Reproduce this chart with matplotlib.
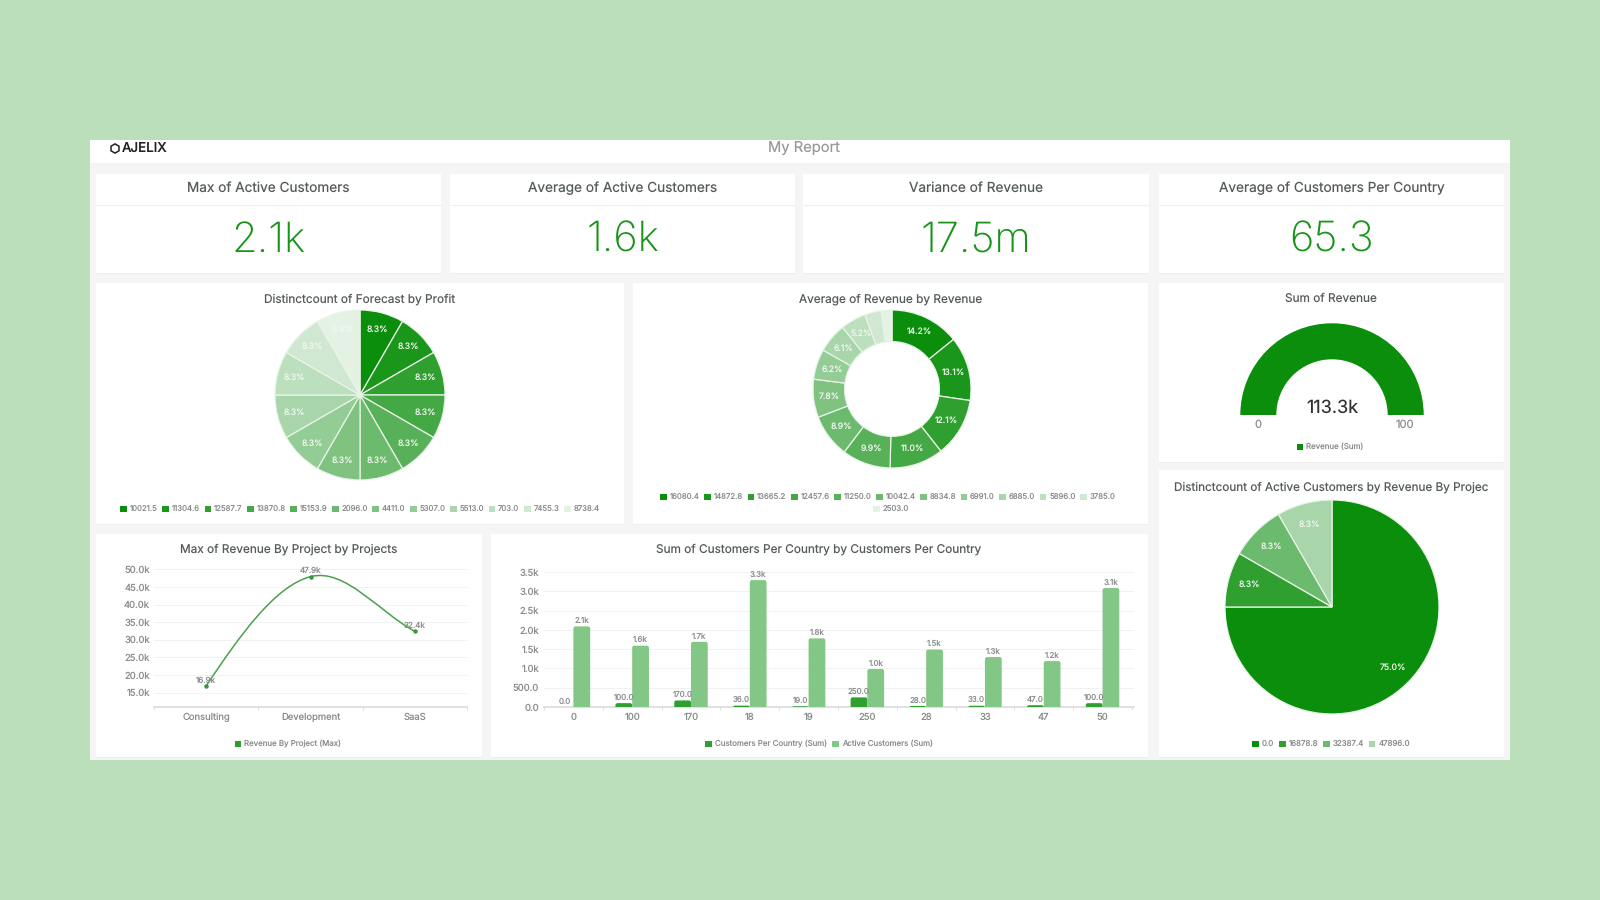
import matplotlib
matplotlib.use("Agg")
from matplotlib import pyplot as plt
from matplotlib.patches import Rectangle, Wedge, PathPatch, RegularPolygon, FancyBboxPatch
from matplotlib.path import Path

plt.rcParams['font.family'] = ['Inter', 'DejaVu Sans']
plt.rcParams['text.hinting'] = 'no_hinting'

# kpi cards
kpi_titles = ["Max of Active Customers", "Average of Active Customers", "Variance of Revenue", "Average of Customers Per Country"]
kpi_values = ["2.1k", "1.6k", "17.5m", "65.3"]

# pie 1
forecast_labels = ["10021.5", "11304.6", "12587.7", "13870.8", "15153.9", "2096.0", "4411.0", "5307.0", "5513.0", "703.0", "7455.3", "8738.4"]
forecast_counts = [1, 1, 1, 1, 1, 1, 1, 1, 1, 1, 1, 1]

# donut
revenue_labels = ["16080.4", "14872.8", "13665.2", "12457.6", "11250.0", "10042.4", "8834.8", "6991.0", "6885.0", "5896.0", "3785.0", "2503.0"]
revenue_values = [16080.4, 14872.8, 13665.2, 12457.6, 11250.0, 10042.4, 8834.8, 6991.0, 6885.0, 5896.0, 3785.0, 2503.0]

# gauge
gauge_value = 100
gauge_max = 100

# line
projects = ["Consulting", "Development", "SaaS"]
project_revenue = [16900, 47900, 32400]
line_ticks = [15000, 20000, 25000, 30000, 35000, 40000, 45000, 50000]

# bars
country_labels = ["0", "100", "170", "18", "19", "250", "28", "33", "47", "50"]
customers_sum = [0, 100, 170, 36, 19, 250, 28, 33, 47, 100]
active_sum = [2090, 1590, 1690, 3290, 1780, 985, 1490, 1295, 1190, 3085]
bar_ticks = [0, 500, 1000, 1500, 2000, 2500, 3000, 3500]

# pie 2
active_labels = ["0.0", "16878.8", "32387.4", "47896.0"]
active_counts = [9, 1, 1, 1]

greens12 = ["#0b8e0b", "#1a961a", "#2f9f30", "#44a845", "#58b159", "#6cba6d", "#80c381", "#94cc95", "#a8d5a9", "#bcdfbd", "#d0e8d1", "#e4f2e4"]
greens4 = ["#0b8e0b", "#2f9f30", "#6cba6d", "#a8d5a9"]
bar_dark = "#2f9f30"
bar_light = "#82c785"

BG = "#bbdfba"
TITLE = "#555a5c"
MUTED = "#8a8d8d"
GRID = "#f0f1f0"

fig = plt.figure(figsize=(16, 9), dpi=100, facecolor=BG)
canvas = fig.add_axes([0, 0, 1, 1])
canvas.set_xlim(0, 1600)
canvas.set_ylim(900, 0)
canvas.axis("off")


def px_axes(x0, y0, x1, y1):
    ax = fig.add_axes([x0 / 1600, 1 - y1 / 900, (x1 - x0) / 1600, (y1 - y0) / 900])
    ax.patch.set_alpha(0)
    return ax


def card(x0, y0, x1, y1):
    canvas.add_patch(Rectangle((x0, y0 + 1), x1 - x0, y1 - y0, fc="#eeeeee", ec="none"))
    canvas.add_patch(Rectangle((x0, y0), x1 - x0, y1 - y0, fc="white", ec="none"))


def legend_row(labels, colors, cx, y, size=5.7, gap=5):
    # measure the labels first so the row can be centred
    renderer = fig.canvas.get_renderer()
    items = []
    total = 0
    for lab in labels:
        t = canvas.text(0, y, lab, fontsize=size, color=MUTED, va="center", ha="left")
        w = t.get_window_extent(renderer).width
        items.append((t, w))
        total += 9.5 + w + gap
    x = cx - (total - gap) / 2
    for (t, w), col in zip(items, colors):
        canvas.add_patch(Rectangle((x, y - 3.2), 6.6, 6.6, fc=col, ec="none"))
        t.set_x(x + 9.5)
        x += 9.5 + w + gap


def pie_axes(cx, cy, r):
    return px_axes(cx - r * 1.02, cy - r * 1.02, cx + r * 1.02, cy + r * 1.02)


def draw_pie(ax, values, colors, width=None, min_pct=0):
    props = {"edgecolor": "#e8f4e8", "linewidth": 0.9}
    if width:
        props["width"] = width
    _, _, autos = ax.pie(values, colors=colors, startangle=90, counterclock=False, radius=1,
                         autopct=lambda p: f"{p:.1f}%" if p >= min_pct else "",
                         pctdistance=0.8, wedgeprops=props,
                         textprops={"color": "#f2f8f2", "fontsize": 6.2})
    ax.set_xlim(-1.02, 1.02)
    ax.set_ylim(-1.02, 1.02)
    return autos


def round_bars(ax, bars, color, aspect):
    # swap the square tops for slightly rounded ones, the bottom is clipped at zero
    for b in bars:
        b.set_visible(False)
        h = b.get_height()
        if h <= 0:
            continue
        ax.add_patch(FancyBboxPatch((b.get_x(), -120), b.get_width(), h + 120,
                                    boxstyle="round,pad=0,rounding_size=0.035", mutation_aspect=aspect,
                                    fc=color, ec="none", zorder=3))


# dashboard frame and header
canvas.add_patch(Rectangle((90, 140), 1420, 620, fc="#f5f5f5", ec="none"))
canvas.add_patch(Rectangle((90, 140), 1420, 23, fc="white", ec="none"))
canvas.add_patch(RegularPolygon((115, 148.5), 6, radius=4.6, fc="none", ec="#222222", lw=1.1))
canvas.text(121.5, 149, "AJELIX", fontsize=9.6, fontweight="medium", color="#222222", va="center", ha="left")
canvas.text(804, 149, "My Report", fontsize=10.6, color="#9a9a9a", va="center", ha="center")

# kpi row
kpi_boxes = [(96, 441), (450, 795), (803, 1149), (1159, 1504)]
for (x0, x1), title, value in zip(kpi_boxes, kpi_titles, kpi_values):
    card(x0, 174, x1, 273)
    canvas.plot([x0, x1], [205, 205], color="#f0f0f0", lw=0.8)
    canvas.text((x0 + x1) / 2, 188, title, fontsize=9.8, color=TITLE, va="center", ha="center")
    canvas.text((x0 + x1) / 2, 240.5, value, fontsize=30, color="#179317", va="center", ha="center", fontweight="light")

# cards
card(96, 283, 624, 524)
card(633, 283, 1148, 524)
card(1159, 283, 1504, 462)
card(96, 534, 482, 757)
card(491, 534, 1148, 757)
card(1159, 470, 1504, 757)

# forecast pie
canvas.text(360, 299, "Distinctcount of Forecast by Profit", fontsize=8.5, color=TITLE, va="center", ha="center")
draw_pie(pie_axes(360, 395, 85), forecast_counts, greens12)
legend_row(forecast_labels, greens12, 360, 509, size=5.6, gap=4.6)

# revenue donut
canvas.text(891, 299, "Average of Revenue by Revenue", fontsize=8.5, color=TITLE, va="center", ha="center")
draw_pie(pie_axes(892, 389, 79), revenue_values, greens12, width=0.4, min_pct=5)
legend_row(revenue_labels[:11], greens12[:11], 888, 497, size=5.6, gap=4.6)
legend_row(revenue_labels[11:], greens12[11:], 891, 509, size=5.6)

# gauge
canvas.text(1331, 299, "Sum of Revenue", fontsize=8.5, color=TITLE, va="center", ha="center")
gauge = px_axes(1235, 320, 1429, 418)
gauge.set_xlim(-97, 97)
gauge.set_ylim(-3, 95)
gauge.axis("off")
gauge.add_patch(Wedge((0, 0), 91.7, 180 - 180 * gauge_value / gauge_max, 180, width=36, fc="#0b8e0b", ec="none"))
canvas.text(1332, 408, "113.3k", fontsize=13, color="#333333", va="center", ha="center")
canvas.text(1258, 425, "0", fontsize=8, color=MUTED, va="center", ha="center")
canvas.text(1405, 425, "100", fontsize=8, color=MUTED, va="center", ha="center")
legend_row(["Revenue (Sum)"], ["#0b8e0b"], 1330, 447)

# line chart
canvas.text(289, 549, "Max of Revenue By Project by Projects", fontsize=8.5, color=TITLE, va="center", ha="center")
ax = px_axes(154, 565, 467, 707)
ax.set_xlim(-0.5, 2.5)
ax.set_ylim(10940, 51200)
xs = range(len(projects))
# smooth segment between the three points, same look as the original spline
mid_slope = (project_revenue[2] - project_revenue[0]) / 2
path = Path([(0, project_revenue[0]),
             (1 / 3, project_revenue[0] + (project_revenue[1] - project_revenue[0]) * 0.48),
             (2 / 3, project_revenue[1] - mid_slope / 3),
             (1, project_revenue[1]),
             (4 / 3, project_revenue[1] + mid_slope / 3),
             (5 / 3, project_revenue[2] - (project_revenue[2] - project_revenue[1]) / 3),
             (2, project_revenue[2])],
            [Path.MOVETO, Path.CURVE4, Path.CURVE4, Path.CURVE4, Path.CURVE4, Path.CURVE4, Path.CURVE4])
ax.add_patch(PathPatch(path, fc="none", ec="#4b9f4e", lw=1.1, zorder=3))
ax.plot(xs, project_revenue, ls="none", marker="o", ms=2.2, color="#3b963e", zorder=4)
for x, v in zip(xs, project_revenue):
    ax.annotate(f"{v / 1000:.1f}k", (x, v), xytext=(0, 4), textcoords="offset points", fontsize=5.8,
                color=MUTED, ha="center", va="center", zorder=5)
ax.set_yticks(line_ticks)
ax.set_yticklabels([f"{t / 1000:.1f}k" for t in line_ticks])
ax.set_xticks(xs)
ax.set_xticklabels(projects)
ax.set_xticks([-0.5, 0.5, 1.5, 2.5], minor=True)
ax.grid(axis="y", color=GRID, lw=0.7)
ax.set_axisbelow(True)
for s in ["top", "right", "left"]:
    ax.spines[s].set_visible(False)
ax.spines["bottom"].set_color("#d8d8d8")
ax.spines["bottom"].set_linewidth(1.1)
ax.tick_params(axis="y", length=0, labelsize=6.8, labelcolor=MUTED, pad=3)
ax.tick_params(axis="x", which="major", length=0, labelsize=6.8, labelcolor=MUTED, pad=4)
ax.tick_params(axis="x", which="minor", length=2.5, color="#d8d8d8")
legend_row(["Revenue By Project (Max)"], [bar_dark], 288, 744)

# bar chart
canvas.text(819, 549, "Sum of Customers Per Country by Customers Per Country", fontsize=8.5, color=TITLE, va="center", ha="center")
ax = px_axes(544, 568, 1134, 707)
ax.set_xlim(-0.5, 9.535)
ax.set_ylim(0, 3604)
pos = list(range(len(country_labels)))
w = 0.285
dark = ax.bar([p - w / 2 for p in pos], customers_sum, w, color=bar_dark, zorder=3)
light = ax.bar([p + w / 2 for p in pos], active_sum, w, color=bar_light, zorder=3)
corner_aspect = (3604 / 139) / (10.035 / 590)
round_bars(ax, dark, bar_dark, corner_aspect)
round_bars(ax, light, bar_light, corner_aspect)
for b, v in zip(dark, customers_sum):
    ax.annotate(f"{v:.1f}", (b.get_x() + w / 2, v), xytext=(0, 4), textcoords="offset points", fontsize=5.7,
                color=MUTED, ha="center", va="center", zorder=5)
for b, v in zip(light, active_sum):
    ax.annotate(f"{v / 1000:.1f}k", (b.get_x() + w / 2, v), xytext=(0, 4), textcoords="offset points", fontsize=5.7,
                color=MUTED, ha="center", va="center", zorder=5)
ax.set_yticks(bar_ticks)
ax.set_yticklabels([f"{t / 1000:.1f}k" if t >= 1000 else f"{t:.1f}" for t in bar_ticks])
ax.set_xticks(pos)
ax.set_xticklabels(country_labels)
ax.set_xticks([p - 0.5 for p in pos] + [9.5], minor=True)
ax.grid(axis="y", color=GRID, lw=0.7)
ax.set_axisbelow(True)
for s in ["top", "right", "left"]:
    ax.spines[s].set_visible(False)
ax.spines["bottom"].set_color("#d8d8d8")
ax.spines["bottom"].set_linewidth(1.1)
ax.tick_params(axis="y", length=0, labelsize=6.8, labelcolor=MUTED, pad=3.6)
ax.tick_params(axis="x", which="major", length=0, labelsize=6.8, labelcolor=MUTED, pad=4)
ax.tick_params(axis="x", which="minor", length=2.5, color="#d8d8d8")
legend_row(["Customers Per Country (Sum)", "Active Customers (Sum)"], [bar_dark, bar_light], 819, 744)

# active customers pie
canvas.text(1174, 487, "Distinctcount of Active Customers by Revenue By Projec", fontsize=8.45, color=TITLE, va="center", ha="left")
draw_pie(pie_axes(1332, 607, 107), active_counts, greens4)
legend_row(active_labels, greens4, 1331, 744)

plt.savefig("out.png", dpi=100, facecolor=BG)
